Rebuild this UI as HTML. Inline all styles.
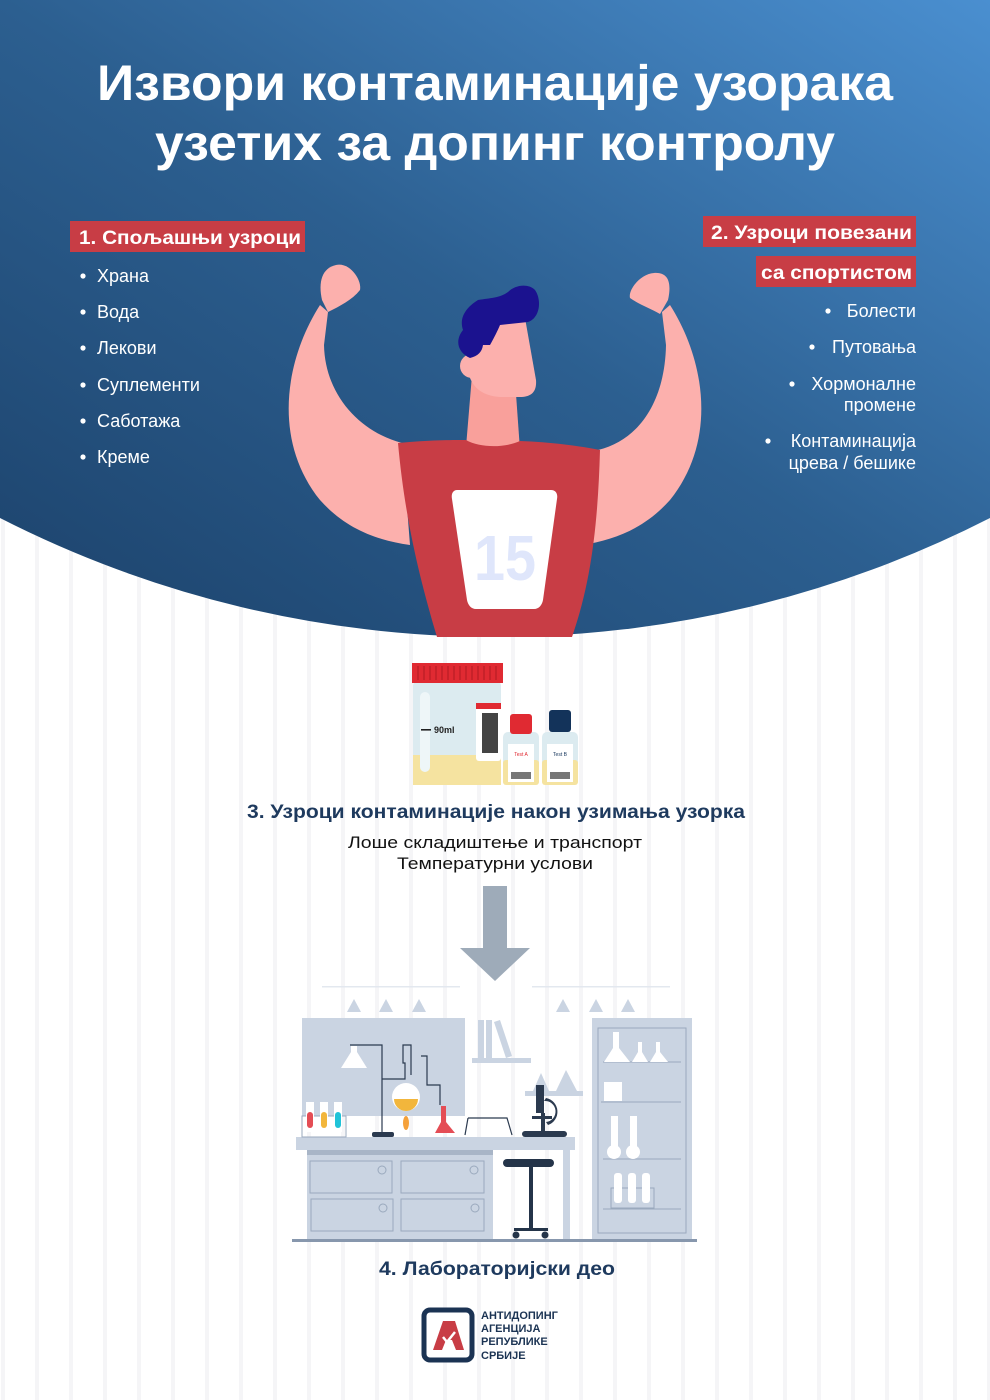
<!DOCTYPE html>
<html><head><meta charset="utf-8"><style>
html,body{margin:0;padding:0;background:#fff}
svg{display:block}
text{font-family:"Liberation Sans","DejaVu Sans",sans-serif}
</style></head><body>
<svg width="990" height="1400" viewBox="0 0 990 1400" xmlns="http://www.w3.org/2000/svg">
<defs>
<linearGradient id="bg" x1="0" y1="1" x2="1" y2="0">
<stop offset="0" stop-color="#1c426b"/><stop offset="0.5" stop-color="#2c5f90"/><stop offset="1" stop-color="#4a8fd0"/>
</linearGradient>
<pattern id="st" x="0" y="0" width="34" height="10" patternUnits="userSpaceOnUse">
<rect x="1" y="0" width="4" height="10" fill="#f5f5f7"/>
</pattern>
</defs>
<rect width="990" height="1400" fill="#fff"/>
<rect width="990" height="1400" fill="url(#st)"/>
<path d="M0,0 H990 V518 A1089,1089 0 0 1 0,518 Z" fill="url(#bg)"/>

<text x="495" y="100" text-anchor="middle" font-size="50" font-weight="bold" fill="#fff" textLength="796" lengthAdjust="spacingAndGlyphs">Извори контаминације узорака</text>
<text x="495" y="160" text-anchor="middle" font-size="50" font-weight="bold" fill="#fff" textLength="680" lengthAdjust="spacingAndGlyphs">узетих за допинг контролу</text>

<rect x="70" y="221" width="235" height="31" fill="#c83d45"/>
<text x="79" y="244" font-size="19" font-weight="bold" fill="#fff" textLength="222" lengthAdjust="spacingAndGlyphs">1. Спољашњи узроци</text>
<g font-size="18" fill="#fff">
<text x="97" y="282">Храна</text><text x="97" y="318">Вода</text><text x="97" y="354">Лекови</text>
<text x="97" y="391">Суплементи</text><text x="97" y="427">Саботажа</text><text x="97" y="463">Креме</text>
</g>
<g fill="#fff"><circle cx="83" cy="276" r="2.6"/><circle cx="83" cy="312" r="2.6"/><circle cx="83" cy="348" r="2.6"/><circle cx="83" cy="385" r="2.6"/><circle cx="83" cy="421" r="2.6"/><circle cx="83" cy="457" r="2.6"/></g>

<rect x="703" y="216" width="213" height="31" fill="#c83d45"/>
<text x="711" y="239" font-size="19" font-weight="bold" fill="#fff" textLength="201" lengthAdjust="spacingAndGlyphs">2. Узроци повезани</text>
<rect x="756" y="256" width="160" height="31" fill="#c83d45"/>
<text x="761" y="279" font-size="19" font-weight="bold" fill="#fff" textLength="151" lengthAdjust="spacingAndGlyphs">са спортистом</text>
<g font-size="18" fill="#fff" text-anchor="end">
<text x="916" y="317">Болести</text><text x="916" y="353">Путовања</text>
<text x="916" y="390">Хормоналне</text><text x="916" y="411">промене</text>
<text x="916" y="447">Контаминација</text><text x="916" y="469">црева / бешике</text>
</g>
<g fill="#fff"><circle cx="828" cy="311" r="2.6"/><circle cx="812" cy="347" r="2.6"/><circle cx="792" cy="384" r="2.6"/><circle cx="768" cy="441" r="2.6"/></g>

<g fill="#fcb0ad">
<path d="M320,305 C285,360 272,440 320,500 C345,528 375,540 410,545 L402,443 C360,432 325,395 324,345 L328,312 Z"/>
<path d="M322,300 C318,282 322,268 336,265 C350,262 362,280 360,290 C352,300 340,306 328,312 Z"/>
<path d="M670,305 C705,360 718,440 670,500 C645,528 615,540 582,545 L598,450 C640,440 665,400 666,345 L662,312 Z"/>
<path d="M668,300 C672,282 668,272 654,273 C640,274 628,290 630,298 C640,305 650,308 660,314 Z"/>
<path d="M466,447 L472,375 L515,380 L520,450 Z" fill="#f9a09b"/>
<path d="M470,330 L525,318 L536,380 C537,393 530,397 520,397 L500,397 C485,396 475,390 470,378 Z"/>
<circle cx="472" cy="366" r="12"/>
</g>
<path d="M478,300 C470,305 458,315 463,330 C455,340 457,352 470,358 C478,356 482,352 483,345 L490,345 C494,338 498,330 500,325 L528,322 C540,318 542,300 535,290 C528,283 515,285 508,292 C500,298 490,298 478,300 Z" fill="#1b128f"/>
<path d="M398,443 C430,440 450,440 466,440 C480,448 505,448 520,441 C550,442 580,446 600,450 C598,520 592,580 572,637 L437,637 C420,580 405,520 398,443 Z" fill="#c83d45"/>
<path d="M457,490 L551,490 C556,490 558,494 557,499 L543,600 C542,605 539,609 534,609 L476,609 C471,609 468,605 467,600 L452,499 C451,494 453,490 457,490 Z" fill="#fff"/>
<text x="505" y="580" text-anchor="middle" font-size="64" font-weight="bold" fill="#dfe6fb" textLength="62" lengthAdjust="spacingAndGlyphs">15</text>

<rect x="413" y="680" width="88" height="105" rx="6" fill="#dcebf0"/>
<rect x="413" y="755" width="88" height="30" fill="#f5e3a0"/>
<rect x="420" y="692" width="10" height="80" rx="5" fill="#eef6f8"/>
<rect x="412" y="663" width="91" height="20" fill="#e02a32"/>
<g stroke="#b81e26" stroke-width="1.2"><line x1="418" y1="666" x2="418" y2="680"/><line x1="424" y1="666" x2="424" y2="680"/><line x1="430" y1="666" x2="430" y2="680"/><line x1="436" y1="666" x2="436" y2="680"/><line x1="442" y1="666" x2="442" y2="680"/><line x1="448" y1="666" x2="448" y2="680"/><line x1="454" y1="666" x2="454" y2="680"/><line x1="460" y1="666" x2="460" y2="680"/><line x1="466" y1="666" x2="466" y2="680"/><line x1="472" y1="666" x2="472" y2="680"/><line x1="478" y1="666" x2="478" y2="680"/><line x1="484" y1="666" x2="484" y2="680"/><line x1="490" y1="666" x2="490" y2="680"/><line x1="496" y1="666" x2="496" y2="680"/></g>
<rect x="476" y="703" width="25" height="58" rx="3" fill="#fff"/>
<rect x="476" y="703" width="25" height="6" fill="#e02a32"/>
<rect x="482" y="713" width="16" height="40" fill="#444"/>
<rect x="421" y="729" width="10" height="1.6" fill="#222"/>
<text x="434" y="733" font-size="9" font-weight="bold" fill="#222">90ml</text>
<rect x="503" y="732" width="36" height="53" rx="5" fill="#dcebf0"/><rect x="503" y="760" width="36" height="25" rx="3" fill="#f5e3a0"/>
<rect x="510" y="714" width="22" height="20" rx="3" fill="#e02a32"/>
<rect x="508" y="744" width="26" height="38" fill="#fff"/>
<text x="521" y="756" text-anchor="middle" font-size="5" fill="#e02a32">Test A</text>
<rect x="511" y="772" width="20" height="7" fill="#777"/>
<rect x="542" y="732" width="36" height="53" rx="5" fill="#dcebf0"/><rect x="542" y="760" width="36" height="25" rx="3" fill="#f5e3a0"/>
<rect x="549" y="710" width="22" height="22" rx="3" fill="#13335a"/>
<rect x="547" y="744" width="26" height="38" fill="#fff"/>
<text x="560" y="756" text-anchor="middle" font-size="5" fill="#13335a">Test B</text>
<rect x="550" y="772" width="20" height="7" fill="#777"/>

<text x="496" y="818" text-anchor="middle" font-size="19" font-weight="bold" fill="#1e3a5e" textLength="498" lengthAdjust="spacingAndGlyphs">3. Узроци контаминације након узимања узорка</text>
<text x="495" y="848" text-anchor="middle" font-size="17" fill="#111" textLength="294" lengthAdjust="spacingAndGlyphs">Лоше складиштење и транспорт</text>
<text x="495" y="869" text-anchor="middle" font-size="17" fill="#111" textLength="196" lengthAdjust="spacingAndGlyphs">Температурни услови</text>

<rect x="483" y="886" width="24" height="62" fill="#9eabb9"/>
<path d="M460,948 L530,948 L495,981 Z" fill="#9eabb9"/>

<g fill="#cad4e2">
<rect x="322" y="986" width="138" height="1.5" fill="#e3e8ef"/><rect x="532" y="986" width="138" height="1.5" fill="#e3e8ef"/>
<path d="M347,1012 L354,999 L361,1012Z"/><path d="M379,1012 L386,999 L393,1012Z"/><path d="M412,1012 L419,999 L426,1012Z"/>
<path d="M556,1012 L563,999 L570,1012Z"/><path d="M589,1012 L596,999 L603,1012Z"/><path d="M621,1012 L628,999 L635,1012Z"/>
<rect x="302" y="1018" width="163" height="98"/>
<rect x="472" y="1058" width="59" height="5"/>
<rect x="478" y="1020" width="6" height="38"/><rect x="486" y="1020" width="6" height="38"/><path d="M494,1022 L500,1020 L512,1056 L506,1058Z"/>
<rect x="525" y="1091" width="58" height="5"/>
<path d="M533,1091 L541,1073 L549,1091Z"/><path d="M556,1091 L566,1070 L577,1091Z"/>
<rect x="296" y="1137" width="279" height="13"/>
<rect x="307" y="1150" width="186" height="90"/>
<rect x="563" y="1150" width="7" height="90"/>
<rect x="592" y="1018" width="100" height="222"/>
</g>
<rect x="307" y="1150" width="186" height="5" fill="#a8b5c7"/>
<g fill="none" stroke="#9aa9bd" stroke-width="1">
<rect x="310" y="1161" width="82" height="32"/><rect x="401" y="1161" width="83" height="32"/>
<rect x="311" y="1199" width="82" height="32"/><rect x="401" y="1199" width="83" height="32"/>
<circle cx="382" cy="1170" r="4"/><circle cx="474" cy="1170" r="4"/><circle cx="383" cy="1208" r="4"/><circle cx="475" cy="1208" r="4"/>
<rect x="598" y="1028" width="88" height="205"/>
<line x1="603" y1="1062" x2="681" y2="1062"/><line x1="601" y1="1102" x2="681" y2="1102"/><line x1="603" y1="1159" x2="681" y2="1159"/><line x1="603" y1="1209" x2="681" y2="1209"/>
<rect x="611" y="1188" width="43" height="20"/>
<rect x="302" y="1116" width="44" height="21"/>
</g>
<g fill="#fff">
<path d="M604,1062 L613,1048 L613,1032 L619,1032 L619,1048 L630,1062Z"/><path d="M632,1062 L638,1052 L638,1042 L642,1042 L642,1052 L648,1062Z"/><path d="M650,1062 L656,1052 L656,1042 L660,1042 L660,1052 L668,1062Z"/>
<rect x="604" y="1082" width="18" height="19"/>
<rect x="611" y="1116" width="7" height="33"/><circle cx="614" cy="1152" r="7"/><rect x="630" y="1116" width="7" height="33"/><circle cx="633" cy="1152" r="7"/>
<rect x="614" y="1173" width="8" height="30" rx="3"/><rect x="628" y="1173" width="8" height="30" rx="3"/><rect x="642" y="1173" width="8" height="30" rx="3"/>
<path d="M341,1068 L351,1052 L351,1046 L357,1046 L357,1052 L367,1068Z"/>
<rect x="306" y="1102" width="8" height="30"/><rect x="320" y="1102" width="8" height="30"/><rect x="334" y="1102" width="8" height="30"/>
<circle cx="406" cy="1097" r="14"/>
</g>
<rect x="307" y="1112" width="6" height="16" rx="3" fill="#e44d55"/><rect x="321" y="1112" width="6" height="16" rx="3" fill="#f2b63c"/><rect x="335" y="1112" width="6" height="16" rx="3" fill="#20c3d8"/>
<path d="M394,1099 A12,12 0 0 0 418,1099 Z" fill="#f2b63c"/>
<ellipse cx="406" cy="1123" rx="3" ry="7" fill="#f5a13a"/>
<path d="M435,1133 L441,1122 L441,1106 L446,1106 L446,1122 L455,1133Z" fill="#e44d55"/>
<g stroke="#2b3a4f" stroke-width="1.2" fill="none"><path d="M350,1045 H382 V1134"/><path d="M382,1079 H405 V1063 H403 V1045 H411 V1075"/><path d="M421,1056 H427 V1085 H440 V1105"/><path d="M468,1118 L465,1135 M468,1118 H507 L512,1135"/></g>
<rect x="372" y="1132" width="22" height="5" rx="2" fill="#2b3a4f"/>
<g fill="#2b3a4f"><rect x="536" y="1085" width="8" height="28"/><path d="M546,1098 A14,14 0 0 1 548,1125 L546,1122 A10,10 0 0 0 544,1101Z"/><rect x="532" y="1116" width="20" height="3"/><rect x="541" y="1113" width="4" height="20"/><rect x="522" y="1131" width="45" height="6" rx="3"/></g>
<rect x="503" y="1159" width="51" height="8" rx="4" fill="#243449"/>
<rect x="529" y="1166" width="4" height="63" fill="#243449"/>
<rect x="514" y="1228" width="34" height="3" fill="#243449"/>
<circle cx="516" cy="1235" r="3.5" fill="#243449"/><circle cx="545" cy="1235" r="3.5" fill="#243449"/>
<rect x="292" y="1239" width="405" height="3" fill="#8797ad"/>

<text x="497" y="1275" text-anchor="middle" font-size="19" font-weight="bold" fill="#1e3a5e" textLength="236" lengthAdjust="spacingAndGlyphs">4. Лабораторијски део</text>

<rect x="424" y="1310" width="48" height="50" rx="6" fill="#fff" stroke="#1b3353" stroke-width="5"/>
<path d="M433,1350 L443,1321 L455,1321 L464,1350 L456,1350 L452,1340 L446,1340 L442,1350Z" fill="#c83d45"/>
<path d="M443,1337 L447,1342 L455,1332" stroke="#fff" stroke-width="2.5" fill="none"/>
<g font-size="11" font-weight="bold" fill="#1b3353">
<text x="481" y="1319">АНТИДОПИНГ</text><text x="481" y="1332">АГЕНЦИЈА</text><text x="481" y="1345">РЕПУБЛИКЕ</text><text x="481" y="1359">СРБИЈЕ</text>
</g>
</svg>
</body></html>
